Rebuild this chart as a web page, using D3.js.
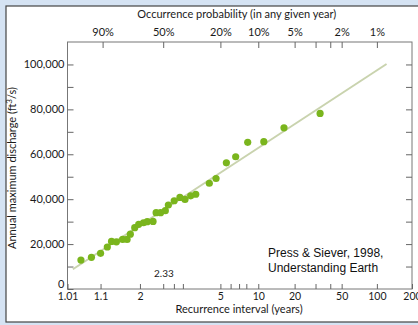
<!DOCTYPE html>
<html>
<head>
<meta charset="utf-8">
<script src="https://cdn.jsdelivr.net/npm/d3@7"></script>
<style>
  html, body { margin: 0; padding: 0; }
  body { width: 418px; height: 325px; overflow: hidden; background: #d5e3f3; }
  svg { display: block; }
  .axis text { font-family: Lato, "Open Sans", sans-serif; font-size: 11px; fill: #1a1a1a; }
  .axis line { stroke: #666; }
  .lbl { font-family: Lato, "Open Sans", sans-serif; font-size: 11px; fill: #1a1a1a; }
</style>
</head>
<body>
<script>
// annual peak discharge, ft3/s, against recurrence interval (years)
const recurrence = [1.03, 1.06, 1.10, 1.14, 1.17, 1.21, 1.27, 1.32, 1.36, 1.42, 1.48,
                    1.56, 1.63, 1.75, 1.82, 1.93, 2.06, 2.15, 2.34, 2.55, 2.76, 3.02,
                    3.28, 4.12, 4.63, 5.56, 6.58, 8.21, 11.1, 16.3, 32.8];
const discharge = [12900, 14100, 15900, 18700, 21200, 21000, 22100, 22100, 24400, 27300, 28800,
                   29500, 30000, 30100, 34000, 34000, 34900, 37400, 39300, 40800, 39900, 41500,
                   42200, 47100, 49200, 56200, 58900, 65300, 65600, 71800, 78200];
// fitted line ends
const fitT = [1.016, 121];
const fitQ = [8800, 100200];

// axis ticks
const bottomTicks = [1.01, 1.1, 1.5, 5, 10, 20, 50, 100, 200];
const bottomLabels = ["1.01", "1.1", "2", "5", "10", "20", "50", "100", "200"];
const bottomMinor = [2, 2.33, 2.67, 6, 7, 8, 30, 40];
const topProb = [90, 50, 20, 10, 5, 2, 1];
const topMinorProb = [3.33, 2.5];
const yTicks = d3.range(0, 100001, 10000);

const width = 418, height = 325;
const plot = {left: 67.5, right: 412, top: 42, bottom: 289};

// gumbel reduced variate for a recurrence interval
const gumbel = T => -Math.log(-Math.log(1 - 1 / T));

const x = d3.scaleLinear().domain([gumbel(1.01), gumbel(200)]).range([plot.left, plot.right]);
const y = d3.scaleLinear().domain([0, 110000]).range([plot.bottom, plot.top]);
const xT = T => x(gumbel(T));

const svg = d3.select("body").append("svg").attr("width", width).attr("height", height);

// white panel
svg.append("rect").attr("x", 6).attr("y", 6).attr("width", 430).attr("height", 316)
  .attr("fill", "#fff").attr("stroke", "#444").attr("stroke-width", 1.2);

// plot frame
svg.append("rect").attr("x", plot.left).attr("y", plot.top)
  .attr("width", plot.right - plot.left).attr("height", plot.bottom - plot.top)
  .attr("fill", "none").attr("stroke", "#777").attr("stroke-width", 1);

// bottom axis
const xb = svg.append("g").attr("class", "axis").attr("transform", `translate(0,${plot.bottom})`)
  .call(d3.axisBottom(x).tickValues(bottomTicks.map(gumbel)).tickSize(-5).tickPadding(4)
    .tickFormat((d, i) => bottomLabels[i]));
xb.selectAll("text").style("font-size", "10.5px");
svg.append("g").attr("class", "axis").attr("transform", `translate(0,${plot.bottom})`)
  .call(d3.axisBottom(x).tickValues(bottomMinor.map(gumbel)).tickSize(-5).tickFormat(""));

// top axis
svg.append("g").attr("class", "axis").attr("transform", `translate(0,${plot.top})`)
  .call(d3.axisTop(x).tickValues(topProb.map(p => gumbel(100 / p))).tickSize(-6).tickPadding(6)
    .tickFormat((d, i) => topProb[i] + "%"));
svg.append("g").attr("class", "axis").attr("transform", `translate(0,${plot.top})`)
  .call(d3.axisTop(x).tickValues(topMinorProb.map(p => gumbel(100 / p))).tickSize(-6).tickFormat(""));

// left + right axes
const yl0 = svg.append("g").attr("class", "axis").attr("transform", `translate(${plot.left},0)`)
  .call(d3.axisLeft(y).tickValues(yTicks).tickSize(-6).tickPadding(3)
    .tickFormat(d => d % 20000 === 0 ? d3.format(",")(d) : ""));
yl0.selectAll("text").filter(d => d === 0).attr("dy", "-0.15em");
svg.append("g").attr("class", "axis").attr("transform", `translate(${plot.right},0)`)
  .call(d3.axisRight(y).tickValues(yTicks.slice(1)).tickSize(-6).tickFormat(""));

svg.selectAll(".axis .domain").remove();

// fit line
const fit = fitT.map((t, i) => [t, fitQ[i]]);
svg.append("path").datum(fit)
  .attr("d", d3.line().x(d => xT(d[0])).y(d => y(d[1])))
  .attr("stroke", "#c9d3ae").attr("stroke-width", 2).attr("fill", "none");

// points
svg.append("g").selectAll("circle").data(recurrence).join("circle")
  .attr("cx", d => xT(d)).attr("cy", (d, i) => y(discharge[i]))
  .attr("r", 3.6).attr("fill", "#7ab51d");

// titles
svg.append("text").attr("class", "lbl").attr("x", (plot.left + plot.right) / 2 - 3).attr("y", 18)
  .attr("text-anchor", "middle").text("Occurrence probability (in any given year)");
svg.append("text").attr("class", "lbl").attr("x", 239).attr("y", 313)
  .attr("text-anchor", "middle").text("Recurrence interval (years)");
const yl = svg.append("text").attr("class", "lbl").attr("text-anchor", "middle")
  .attr("transform", "translate(16,168) rotate(-90)");
yl.append("tspan").text("Annual maximum discharge (ft");
yl.append("tspan").attr("dy", -4).attr("font-size", 8).text("3");
yl.append("tspan").attr("dy", 4).text("/s)");

svg.append("text").attr("class", "lbl").attr("x", xT(2.33) - 10).attr("y", 277)
  .attr("text-anchor", "middle").style("font-size", "10px").text("2.33");

const cite = svg.append("text").attr("font-family", "'Liberation Sans', Arial, sans-serif")
  .attr("font-size", 12).attr("fill", "#111");
cite.append("tspan").attr("x", 268).attr("y", 257).text("Press & Siever, 1998,");
cite.append("tspan").attr("x", 268).attr("y", 272).text("Understanding Earth");
</script>
</body>
</html>
